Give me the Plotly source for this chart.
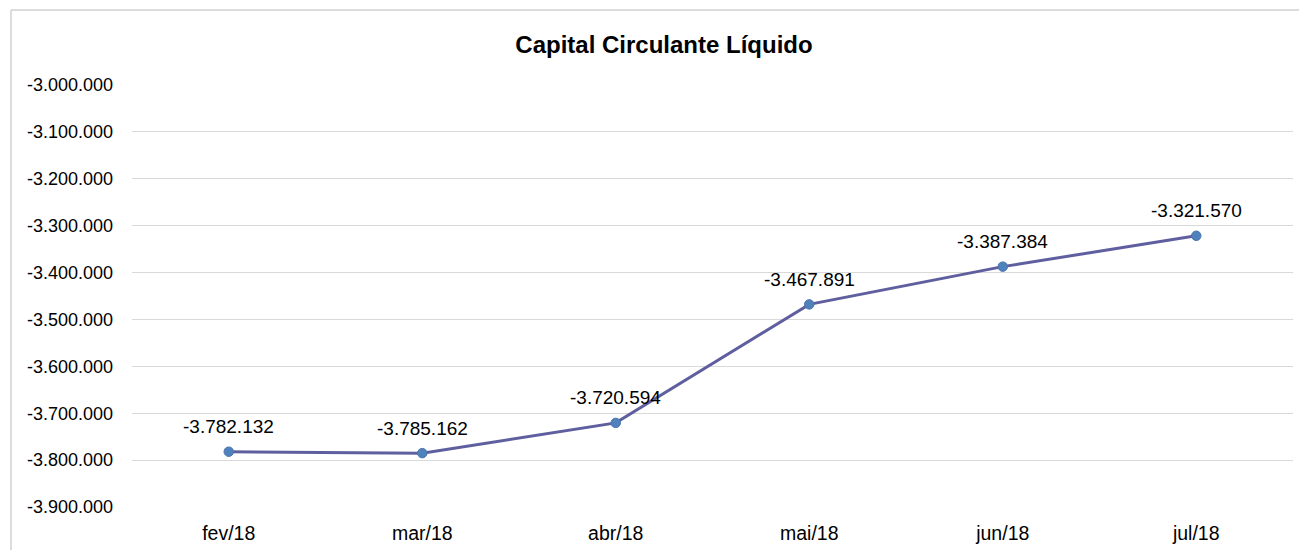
import plotly.graph_objects as go

categories = ["fev/18", "mar/18", "abr/18", "mai/18", "jun/18", "jul/18"]
values = [-3782132, -3785162, -3720594, -3467891, -3387384, -3321570]
y_ticks = [-3900000, -3800000, -3700000, -3600000, -3500000, -3400000,
           -3300000, -3200000, -3100000, -3000000]
title_text = "Capital Circulante Líquido"


def fmt(v):
    return f"{v:,}".replace(",", ".")


fig = go.Figure()
fig.add_trace(go.Scatter(
    x=categories, y=values, mode="lines+markers",
    line=dict(color="#5F5FA0", width=3),
    marker=dict(color="#4F81BD", size=9.5, line=dict(color="#4A76AD", width=1)),
    hoverinfo="skip", showlegend=False,
))

for c, v in zip(categories, values):
    fig.add_annotation(x=c, y=v, text=fmt(v), showarrow=False, yshift=25,
                       font=dict(family="Liberation Sans, Arial", size=19, color="#000000"))

fig.update_layout(
    width=1299, height=550,
    margin=dict(l=132, r=6, t=85, b=43),
    paper_bgcolor="white", plot_bgcolor="white",
    separators=",.",
    font=dict(family="Liberation Sans, Arial", size=16, color="#000000"),
    title=dict(text="<b>" + title_text + "</b>", x=664 / 1299, xanchor="center",
               y=1 - 45 / 550, yanchor="middle", xref="container", yref="container",
               font=dict(family="Liberation Sans, Arial", size=24, color="#000000")),
    xaxis=dict(type="category", range=[-0.5, 5.5], showgrid=False, zeroline=False,
               showline=False, ticks="", ticklabelstandoff=12,
               tickfont=dict(size=19.5)),
    yaxis=dict(range=[-3900000, -3000000], tickvals=y_ticks,
               ticktext=[fmt(t) for t in y_ticks],
               showgrid=True, gridcolor="#D9D9D9", gridwidth=1, zeroline=False,
               showline=False, ticks="", ticklabelstandoff=18,
               tickfont=dict(size=18)),
    shapes=[
        dict(type="line", xref="paper", yref="paper",
             x0=(11 - 132) / 1161, x1=1.1, y0=1 + 75 / 422, y1=1 + 75 / 422,
             line=dict(color="#D0D0D0", width=1.5)),
        dict(type="line", xref="paper", yref="paper",
             x0=(11 - 132) / 1161, x1=(11 - 132) / 1161, y0=1 + 75 / 422, y1=-0.2,
             line=dict(color="#D0D0D0", width=1.5)),
    ],
)

fig.write_html("out.html", config={"displayModeBar": False},
               post_script="document.body.style.margin='0';document.body.style.overflow='hidden';")
